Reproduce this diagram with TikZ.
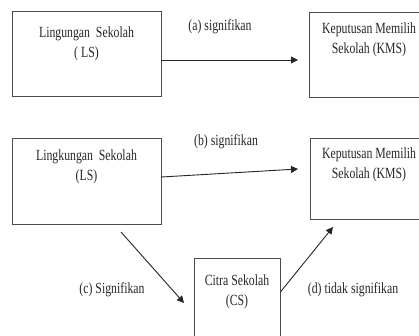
\documentclass[tikz,border=0pt]{standalone}
\usepackage{fontspec}
\setmainfont{Liberation Serif}[FakeStretch=0.76]
\usetikzlibrary{arrows.meta}
\begin{document}
\begin{tikzpicture}[x=1pt,y=-1pt,
  box/.style={draw=black!70,line width=0.8pt,rectangle,inner sep=0pt},
  lbl/.style={font=\fontsize{15.5}{18.5}\selectfont,text=black!85,inner sep=0pt,align=center},
  arr/.style={draw=black!85,line width=0.9pt,-{Triangle[length=7pt,width=7pt]}}]
\useasboundingbox (0,0) rectangle (419,335);
\clip (0,0) rectangle (419,335);
\fill[white] (0,0) rectangle (419,335);
% row 1
\node[box,minimum width=149pt,minimum height=85pt] (LS1) at (86.5,53.5) {};
\node[box,minimum width=120pt,minimum height=85pt] (KMS1) at (369,54.5) {};
\node[lbl] (tLS1) at (86.5,44) {Lingungan\ \ Sekolah\\[1pt]( LS)};
\node[lbl] (tKMS1) at (369,40) {Keputusan Memilih\\[1pt]Sekolah (KMS)};
\node[lbl] (la) at (220,27) {(a) signifikan};
\coordinate (ae) at (298,60);
\draw[arr] ([yshift=-6.5pt]LS1.east) -- (ae);
% row 2
\node[box,minimum width=149pt,minimum height=86pt] (LS2) at (86.5,181) {};
\node[box,minimum width=120pt,minimum height=81pt] (KMS2) at (370,178.5) {};
\node[lbl] (tLS2) at (86.5,167) {Lingkungan\ \ Sekolah\\[1pt](LS)};
\node[lbl] (tKMS2) at (369,165) {Keputusan Memilih\\[1pt]Sekolah (KMS)};
\node[lbl] (lb) at (226,142) {(b) signifikan};
\coordinate (be) at (298,169);
\draw[arr] ([yshift=4pt]LS2.east) -- (be);
% Citra
\node[box,minimum width=86pt,minimum height=100pt] (CS) at (237,308) {};
\node[lbl] (tCS) at (237,292) {Citra Sekolah\\[1pt](CS)};
\coordinate (cs) at (121,232);
\coordinate (ce) at (184,303);
\draw[arr] (cs) -- (ce);
\node[lbl] (lc) at (112,290) {(c) Signifikan};
\coordinate (de) at (333,227);
\draw[arr] ([yshift=16pt]CS.east) -- (de);
\node[lbl] (ld) at (353,290) {(d) tidak signifikan};
\end{tikzpicture}
\end{document}
